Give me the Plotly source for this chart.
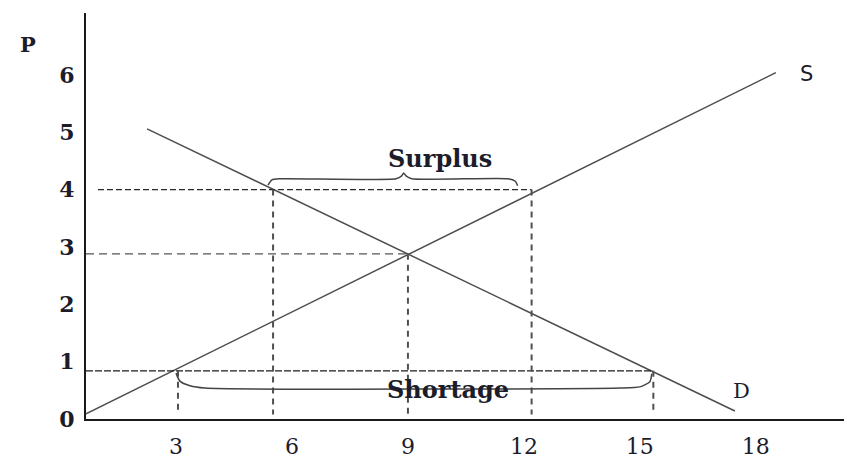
import plotly.graph_objects as go

# supply / demand lines (quantity, price)
SUPPLY_Q = [0.67, 18.52]
SUPPLY_P = [0.09, 6.04]
DEMAND_Q = [2.25, 17.46]
DEMAND_P = [5.06, 0.14]

# dashed price guides: level, start quantity, end quantity
PRICE_LEVELS = [4.0, 2.88, 0.84]
PRICE_FROM_Q = [0.98, 0.67, 0.67]
PRICE_TO_Q = [12.2, 9.0, 15.33]

# dashed quantity guides: quantity, top price
QTY_LEVELS = [3.05, 5.51, 9.0, 12.2, 15.35]
QTY_TOP_P = [0.84, 4.0, 2.88, 4.0, 0.84]
QTY_BOTTOM_P = 0.08

# braces
SURPLUS_Q = [5.38, 5.48, 5.69, 8.69, 8.84, 8.89, 8.95, 9.10, 11.59, 11.77, 11.84]
SURPLUS_P = [4.08, 4.17, 4.19, 4.19, 4.24, 4.29, 4.24, 4.19, 4.19, 4.15, 4.07]
SHORTAGE_Q = [3.00, 3.10, 3.36, 3.75, 14.48, 15.00, 15.26, 15.31]
SHORTAGE_P = [0.80, 0.66, 0.58, 0.54, 0.54, 0.56, 0.65, 0.79]

X_TICKS = [3, 6, 9, 12, 15, 18]
Y_TICKS = [0, 1, 2, 3, 4, 5, 6]

SERIF = "DejaVu Serif"
INK = "#1c1c2a"

fig = go.Figure()

fig.add_trace(go.Scatter(x=SUPPLY_Q, y=SUPPLY_P, mode="lines",
                         line=dict(color="#4d4d4d", width=1.5)))
fig.add_trace(go.Scatter(x=DEMAND_Q, y=DEMAND_P, mode="lines",
                         line=dict(color="#4d4d4d", width=1.5)))

h_dash = ["6px,3px", "8px,5px", "7px,2px"]
h_col = ["#2a2a2a", "#555555", "#1e1e1e"]
for p, q0, q1, d, c in zip(PRICE_LEVELS, PRICE_FROM_Q, PRICE_TO_Q, h_dash, h_col):
    fig.add_trace(go.Scatter(x=[q0, q1], y=[p, p], mode="lines",
                             line=dict(color=c, width=1.3, dash=d)))

for q, p in zip(QTY_LEVELS, QTY_TOP_P):
    fig.add_trace(go.Scatter(x=[q, q], y=[p, QTY_BOTTOM_P], mode="lines",
                             line=dict(color="#505050", width=2, dash="6px,5px")))

fig.add_trace(go.Scatter(x=SURPLUS_Q, y=SURPLUS_P, mode="lines",
                         line=dict(color="#444444", width=1.5, shape="spline", smoothing=0.6)))
fig.add_trace(go.Scatter(x=SHORTAGE_Q, y=SHORTAGE_P, mode="lines",
                         line=dict(color="#444444", width=1.5, shape="spline", smoothing=0.6)))

fig.add_annotation(x=9.83, y=4.54, text="<b>Surplus</b>", showarrow=False,
                   font=dict(family=SERIF, size=24, color=INK))
fig.add_annotation(x=10.03, y=0.51, text="<b>Shortage</b>", showarrow=False,
                   font=dict(family=SERIF, size=24, color=INK))
fig.add_annotation(x=19.32, y=6.02, text="S", showarrow=False,
                   font=dict(family="DejaVu Sans", size=21, color=INK))
fig.add_annotation(x=17.64, y=0.49, text="D", showarrow=False,
                   font=dict(family=SERIF, size=21, color=INK))
fig.add_annotation(x=-0.089, xref="paper", y=6.53, text="<b>P</b>", showarrow=False,
                   font=dict(family=SERIF, size=21, color=INK))

# page body keeps its default 8px margin, so the figure is 8px smaller than the window
fig.update_layout(
    width=844, height=451,
    margin=dict(l=78, r=0, t=5, b=40),
    paper_bgcolor="white", plot_bgcolor="white",
    showlegend=False,
    xaxis=dict(range=[0.67, 20.49], showgrid=False, zeroline=False, automargin=False,
               showline=True, linecolor="#1a1a1a", linewidth=2,
               tickvals=X_TICKS, ticktext=[str(t) for t in X_TICKS],
               ticks="", ticklabelstandoff=7,
               tickfont=dict(family=SERIF, size=22, color=INK)),
    yaxis=dict(range=[0, 7.08], showgrid=False, zeroline=False, automargin=False,
               showline=True, linecolor="#1a1a1a", linewidth=2,
               tickvals=Y_TICKS, ticktext=[f"<b>{t}</b>" for t in Y_TICKS],
               ticks="", ticklabelstandoff=5,
               tickfont=dict(family=SERIF, size=22, color=INK)),
)

fig.write_html("out.html")
